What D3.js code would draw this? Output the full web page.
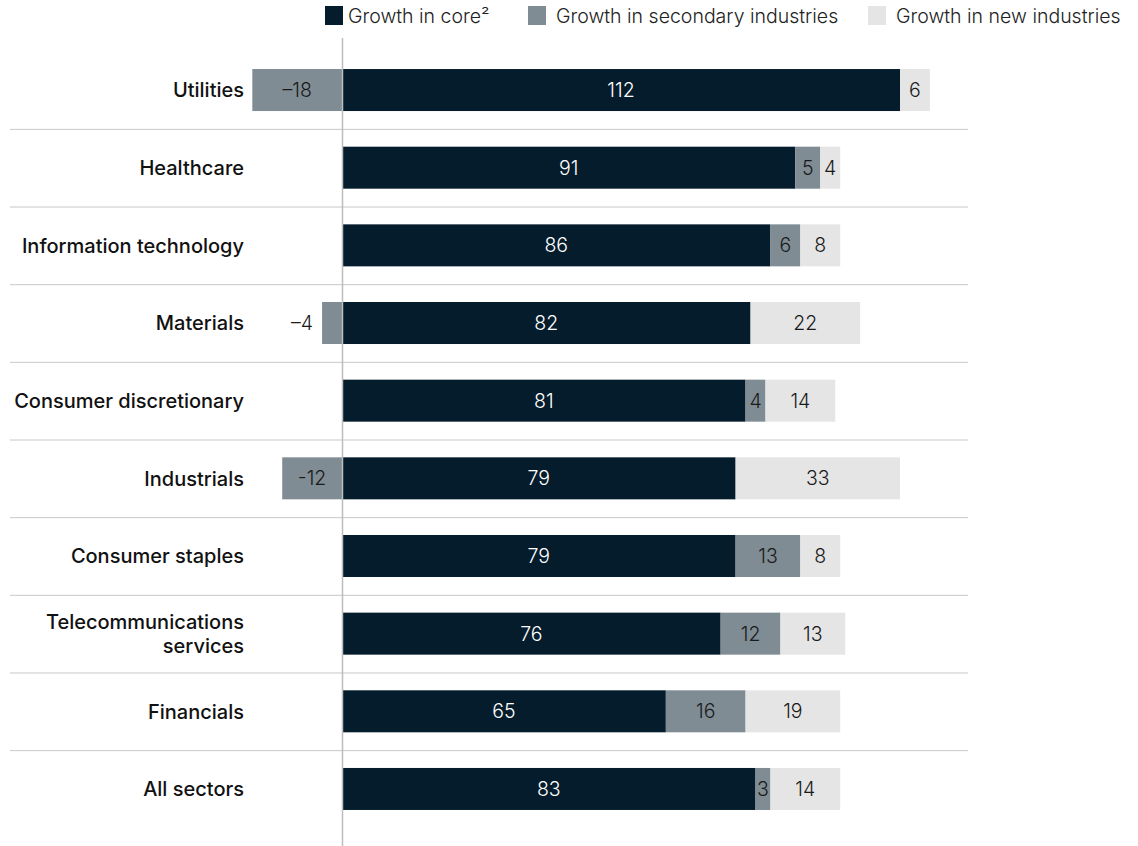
<!DOCTYPE html>
<html>
<head>
<meta charset="utf-8">
<script src="https://cdn.jsdelivr.net/npm/d3@7"></script>
<style>
  body { margin: 0; background: #fff; }
  text { font-family: Inter, "Liberation Sans", sans-serif; }
</style>
</head>
<body>
<script>
var sectors = ['Utilities', 'Healthcare', 'Information technology', 'Materials', 'Consumer discretionary',
    'Industrials', 'Consumer staples', 'Telecommunications services', 'Financials', 'All sectors'];
var core = [112, 91, 86, 82, 81, 79, 79, 76, 65, 83];
var secondary = [-18, 5, 6, -4, 4, -12, 13, 12, 16, 3];
var newInd = [6, 4, 8, 22, 14, 33, 8, 13, 19, 14];
var seriesNames = ['Growth in core²', 'Growth in secondary industries', 'Growth in new industries'];
var colors = ['#051c2c', '#7f8c94', '#e5e5e5'];
var textColors = ['#ffffff', '#1a1a1a', '#1a1a1a'];

var scr = { w: 1138, h: 846 };
var svg = d3.select('body').append('svg')
    .attr('width', scr.w)
    .attr('height', scr.h);

var xScale = d3.scaleLinear()
    .domain([0, 112])
    .range([342, 900]);

var yScale = d3.scaleBand()
    .domain(sectors)
    .range([51.2, 827.8]);

var barH = 42;

// separators between rows
svg.append('g').selectAll('line')
    .data(sectors.slice(1))
    .enter()
    .append('line')
    .attr('x1', 10)
    .attr('x2', 968)
    .attr('y1', function(d) { return yScale(d) + 0.5; })
    .attr('y2', function(d) { return yScale(d) + 0.5; })
    .attr('stroke', '#c8c8c8')
    .attr('stroke-width', 1);

// build segments
var segs = [];
sectors.forEach(function(s, i) {
    var vals = [core[i], secondary[i], newInd[i]];
    var pos = 0, neg = 0;
    vals.forEach(function(v, k) {
        var x0, x1;
        if (v >= 0) { x0 = pos; x1 = pos + v; pos = x1; }
        else { x1 = neg; x0 = neg + v; neg = x0; }
        segs.push({ sector: s, k: k, v: v, x0: x0, x1: x1 });
    });
});

var bars = svg.append('g');
bars.selectAll('rect')
    .data(segs)
    .enter()
    .append('rect')
    .attr('x', function(d) { return xScale(d.x0); })
    .attr('width', function(d) { return xScale(d.x1) - xScale(d.x0); })
    .attr('y', function(d) { return yScale(d.sector) + yScale.bandwidth() / 2 - barH / 2; })
    .attr('height', barH)
    .attr('fill', function(d) { return colors[d.k]; });

bars.selectAll('text')
    .data(segs)
    .enter()
    .append('text')
    .attr('x', function(d) {
        var w = xScale(d.x1) - xScale(d.x0);
        if (d.v < 0 && w < 30) return xScale(d.x0) - 9;
        return (xScale(d.x0) + xScale(d.x1)) / 2;
    })
    .attr('text-anchor', function(d) {
        var w = xScale(d.x1) - xScale(d.x0);
        return (d.v < 0 && w < 30) ? 'end' : 'middle';
    })
    .attr('y', function(d) { return yScale(d.sector) + yScale.bandwidth() / 2; })
    .attr('dy', '0.36em')
    .attr('font-size', 19.5)
    .attr('font-weight', 300)
    .attr('fill', function(d) {
        var w = xScale(d.x1) - xScale(d.x0);
        return (d.v < 0 && w < 30) ? '#1a1a1a' : textColors[d.k];
    })
    .text(function(d) {
        if (d.v >= 0) return d.v;
        return (d.sector === 'Industrials' ? '-' : '\u2013') + Math.abs(d.v);
    });

// zero line
svg.append('line')
    .attr('x1', xScale(0) + 0.5)
    .attr('x2', xScale(0) + 0.5)
    .attr('y1', 38)
    .attr('y2', scr.h)
    .attr('stroke', '#bdbdbd')
    .attr('stroke-width', 1.5);

// category labels
var labels = svg.append('g');
sectors.forEach(function(s) {
    var cy = yScale(s) + yScale.bandwidth() / 2;
    var lines = s === 'Telecommunications services' ? ['Telecommunications', 'services'] : [s];
    lines.forEach(function(l, j) {
        labels.append('text')
            .attr('x', 244)
            .attr('y', cy + (j - (lines.length - 1) / 2) * 24)
            .attr('dy', '0.36em')
            .attr('text-anchor', 'end')
            .attr('font-size', 20)
            .attr('font-weight', 500)
            .attr('fill', '#111')
            .text(l);
    });
});

// legend
var legendX = [325, 528, 868];
var legend = svg.append('g');
seriesNames.forEach(function(n, i) {
    legend.append('rect')
        .attr('x', legendX[i])
        .attr('y', 6)
        .attr('width', 18)
        .attr('height', 19)
        .attr('fill', colors[i]);
    legend.append('text')
        .attr('x', legendX[i] + (i === 0 ? 23 : 28))
        .attr('y', 16)
        .attr('dy', '0.36em')
        .attr('font-size', 19.5)
        .attr('font-weight', 300)
        .attr('fill', '#222')
        .text(n);
});
</script>
</body>
</html>
